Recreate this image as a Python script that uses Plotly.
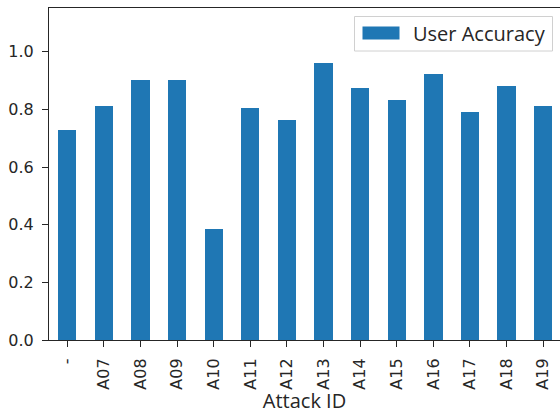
import plotly.graph_objects as go

categories = ["-", "A07", "A08", "A09", "A10", "A11", "A12", "A13", "A14", "A15", "A16", "A17", "A18", "A19"]
user_accuracy = [0.727, 0.812, 0.902, 0.902, 0.386, 0.805, 0.764, 0.960, 0.874, 0.833, 0.923, 0.790, 0.880, 0.811]
y_ticks = [0.0, 0.2, 0.4, 0.6, 0.8, 1.0]
series_name = "User Accuracy"
x_title = "Attack ID"

W, H = 560, 414
ML, MR, MT, MB = 49, 0, 8, 74
PW, PH = W - ML - MR, H - MT - MB


def px(x):
    return (x - ML) / PW


def py(y):
    return (H - MB - y) / PH


fig = go.Figure()
fig.add_trace(go.Bar(
    x=list(range(len(categories))),
    y=user_accuracy,
    name=series_name,
    width=0.5,
    marker=dict(color="#1f77b4", line=dict(width=0)),
    showlegend=False,
))

tick_font = dict(family="DejaVu Sans", size=16, color="#262626")
label_font = dict(family="Open Sans", size=20, color="#262626")

fig.update_layout(
    width=W, height=H,
    margin=dict(l=ML, r=MR, t=MT, b=MB, pad=0),
    paper_bgcolor="white",
    plot_bgcolor="white",
    bargap=0,
    xaxis=dict(
        range=[-0.5, 13.46],
        tickmode="array",
        tickvals=list(range(len(categories))),
        ticktext=categories,
        tickangle=-90,
        tickfont=tick_font,
        ticks="outside", ticklen=6, tickwidth=1, tickcolor="#262626",
        ticklabelstandoff=5,
        showline=True, linecolor="#262626", linewidth=1, mirror=True,
        showgrid=False, zeroline=False,
        title=dict(text=x_title, font=label_font, standoff=2),
    ),
    yaxis=dict(
        range=[0, 1.152],
        tickmode="array",
        tickvals=y_ticks,
        ticktext=[f"{v:.1f}" for v in y_ticks],
        tickfont=tick_font,
        ticks="outside", ticklen=6, tickwidth=1, tickcolor="#262626",
        ticklabelstandoff=5,
        showline=True, linecolor="#262626", linewidth=1,
        showgrid=False, zeroline=False,
    ),
    shapes=[
        dict(type="rect", xref="paper", yref="paper",
             x0=px(354.5), x1=px(552.5), y0=py(51), y1=py(16.5),
             line=dict(color="#d0d0d0", width=1), fillcolor="rgba(255,255,255,0.8)"),
        dict(type="rect", xref="paper", yref="paper",
             x0=px(362.5), x1=px(399.5), y0=py(39.5), y1=py(26.5),
             line=dict(width=0), fillcolor="#1f77b4"),
    ],
    annotations=[
        dict(text=series_name, xref="paper", yref="paper",
             x=px(411), y=py(33), xanchor="left", yanchor="middle",
             showarrow=False, font=label_font),
    ],
)

fig.write_html(
    "out.html",
    config={"displayModeBar": False},
    post_script="document.body.style.margin='0';document.body.style.overflow='hidden';",
)
